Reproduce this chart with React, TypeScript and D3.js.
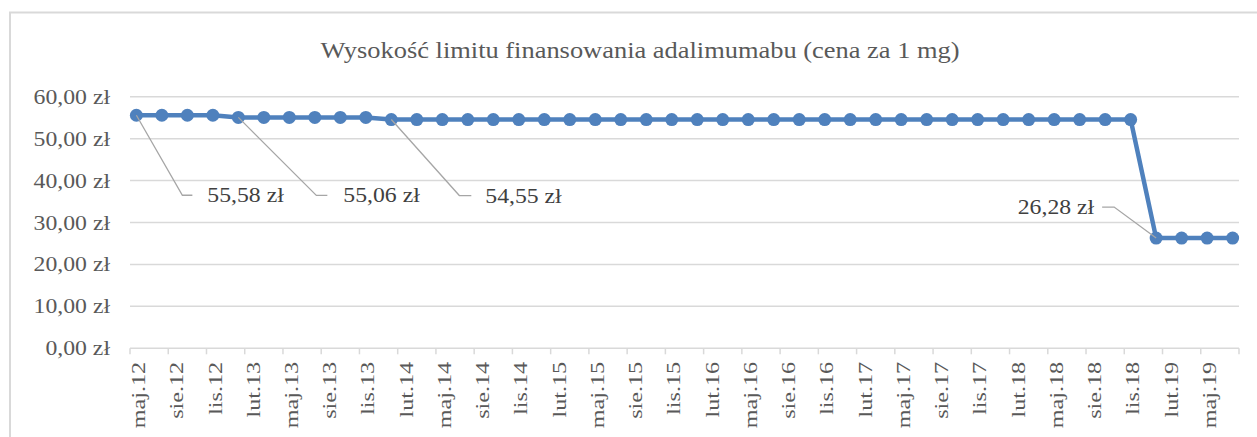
import React from "react";
import * as d3 from "d3";

// ---- data ----
const pointMonths = [
  "2012-05", "2012-07", "2012-09", "2012-11",
  "2013-01", "2013-03", "2013-05", "2013-07", "2013-09", "2013-11",
  "2014-01", "2014-03", "2014-05", "2014-07", "2014-09", "2014-11",
  "2015-01", "2015-03", "2015-05", "2015-07", "2015-09", "2015-11",
  "2016-01", "2016-03", "2016-05", "2016-07", "2016-09", "2016-11",
  "2017-01", "2017-03", "2017-05", "2017-07", "2017-09", "2017-11",
  "2018-01", "2018-03", "2018-05", "2018-07", "2018-09", "2018-11",
  "2019-01", "2019-03", "2019-05", "2019-07",
];
const limitValues = [
  55.58, 55.58, 55.58, 55.58,
  55.06, 55.06, 55.06, 55.06, 55.06, 55.06,
  54.55, 54.55, 54.55, 54.55, 54.55, 54.55,
  54.55, 54.55, 54.55, 54.55, 54.55, 54.55,
  54.55, 54.55, 54.55, 54.55, 54.55, 54.55,
  54.55, 54.55, 54.55, 54.55, 54.55, 54.55,
  54.55, 54.55, 54.55, 54.55, 54.55, 54.55,
  26.28, 26.28, 26.28, 26.28,
];
const tickLabels = [
  "maj.12", "sie.12", "lis.12",
  "lut.13", "maj.13", "sie.13", "lis.13",
  "lut.14", "maj.14", "sie.14", "lis.14",
  "lut.15", "maj.15", "sie.15", "lis.15",
  "lut.16", "maj.16", "sie.16", "lis.16",
  "lut.17", "maj.17", "sie.17", "lis.17",
  "lut.18", "maj.18", "sie.18", "lis.18",
  "lut.19", "maj.19",
];
const yTickValues = [0, 10, 20, 30, 40, 50, 60];
const labeledPoints = [0, 4, 10, 40];
const chartTitle = "Wysokość limitu finansowania adalimumabu (cena za 1 mg)";
const axisStartMonth = "2012-05";
const axisEndMonth = "2019-08";

// ---- layout ----
const W = 1257;
const H = 437;
const plotLeft = 130;
const plotRight = 1239;
const plotTop = 96.7;
const plotBottom = 348.3;
const FONT = "Liberation Serif, Times New Roman, DejaVu Serif, serif";
const TEXT = "#595959";
const GRID = "#d9d9d9";
const BLUE = "#4f81bd";
const LEADER = "#a6a6a6";

// label layout offsets relative to point (elbow, line end, text anchor)
const labelLayout: Record<number, { ex: number; ey: number; lx: number; tx: number; anchor: string }> = {
  0: { ex: 46, ey: 80, lx: 56, tx: 71, anchor: "start" },
  4: { ex: 78, ey: 78, lx: 89, tx: 105, anchor: "start" },
  10: { ex: 68, ey: 76, lx: 80, tx: 94, anchor: "start" },
  40: { ex: -42, ey: -31, lx: -54, tx: -62, anchor: "end" },
};

function monthIndex(s: string): number {
  const [y, m] = s.split("-").map(Number);
  const [y0, m0] = axisStartMonth.split("-").map(Number);
  return (y - y0) * 12 + (m - m0);
}

const fmt = (v: number) => v.toFixed(2).replace(".", ",") + " zł";

export default function App() {
  const nMonths = monthIndex(axisEndMonth);
  const x = d3.scaleLinear().domain([0, nMonths]).range([plotLeft, plotRight]);
  const y = d3.scaleLinear().domain([0, 60]).range([plotBottom, plotTop]);

  const pts = pointMonths.map((m, i) => ({
    x: x(monthIndex(m) + 0.5),
    y: y(limitValues[i]),
    v: limitValues[i],
  }));
  const line = d3
    .line<{ x: number; y: number }>()
    .x((d) => d.x)
    .y((d) => d.y);

  const tickPositions = d3.range(0, nMonths + 1, 3);

  return (
    <svg
      width={W}
      height={H}
      style={{ position: "absolute", left: 0, top: 0, background: "#fff", fontFamily: FONT }}
    >
      <rect x={0} y={0} width={W} height={H} fill="#fff" />
      <rect
        x={10}
        y={12.5}
        width={W + 10}
        height={H + 10}
        fill="none"
        stroke={GRID}
        strokeWidth={2}
      />
      <text
        transform={`translate(640,50) scale(1.15,1)`}
        textAnchor="middle"
        dominantBaseline="central"
        style={{ fontFamily: FONT }}
        fontSize={23}
        fill={TEXT}
      >
        {chartTitle}
      </text>

      {/* gridlines & y labels */}
      {yTickValues.map((t) => (
        <g key={t}>
          <line
            x1={plotLeft}
            x2={plotRight}
            y1={y(t)}
            y2={y(t)}
            stroke={GRID}
            strokeWidth={1.5}
          />
          <text
            transform={`translate(110,${y(t)}) scale(1.13,1)`}
            textAnchor="end"
            dominantBaseline="central"
            style={{ fontFamily: FONT }}
            fontSize={21}
            fill={TEXT}
          >
            {fmt(t)}
          </text>
        </g>
      ))}

      {/* x ticks */}
      {tickPositions.map((k) => (
        <line
          key={k}
          x1={x(k)}
          x2={x(k)}
          y1={plotBottom}
          y2={plotBottom + 6}
          stroke={GRID}
          strokeWidth={1.5}
        />
      ))}
      {tickLabels.map((lab, i) => (
        <text
          key={lab}
          transform={`translate(${x(i * 3 + 0.5) + 2},${plotBottom + 13.5}) rotate(-90) scale(1.24,1)`}
          textAnchor="end"
          dominantBaseline="central"
          style={{ fontFamily: FONT }}
          fontSize={19.5}
          fill={TEXT}
        >
          {lab}
        </text>
      ))}

      {/* series */}
      <path
        d={line(pts) || ""}
        fill="none"
        stroke={BLUE}
        strokeWidth={4.5}
        strokeLinejoin="round"
      />
      {pts.map((p, i) => (
        <circle key={i} cx={p.x} cy={p.y} r={6.5} fill={BLUE} />
      ))}

      {/* data labels with leader lines */}
      {labeledPoints.map((i) => {
        const p = pts[i];
        const L = labelLayout[i];
        return (
          <g key={i}>
            <polyline
              points={`${p.x},${p.y} ${p.x + L.ex},${p.y + L.ey} ${p.x + L.lx},${p.y + L.ey}`}
              fill="none"
              stroke={LEADER}
              strokeWidth={1.3}
            />
            <text
              transform={`translate(${p.x + L.tx},${p.y + L.ey}) scale(1.13,1)`}
              textAnchor={L.anchor}
              dominantBaseline="central"
              style={{ fontFamily: FONT }}
              fontSize={21}
              fill="#404040"
            >
              {fmt(p.v)}
            </text>
          </g>
        );
      })}
    </svg>
  );
}
